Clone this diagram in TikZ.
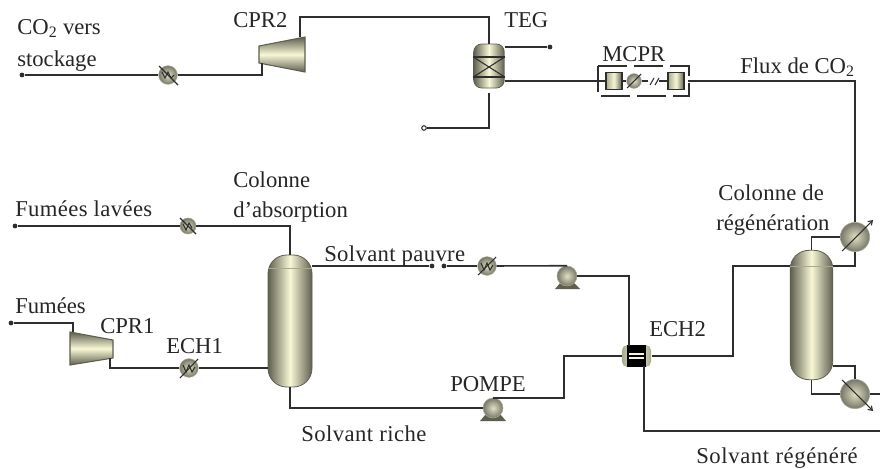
\documentclass[tikz,border=0pt]{standalone}
\usepackage{fontspec}
\setmainfont{Liberation Serif}
\usetikzlibrary{arrows.meta,calc}
\definecolor{ink}{HTML}{2E2E2E}
\definecolor{eqdark}{HTML}{5F5F50}
\definecolor{eqmid}{HTML}{A9A98F}
\definecolor{eqlight}{HTML}{F8F8D6}
\newcommand{\wide}[1]{\addfontfeature{LetterSpace=#1}}
\tikzset{
  lab/.style={anchor=base west,inner sep=0pt,font=\fontsize{17}{20}\selectfont,text=black!85},
  pipe/.style={draw=ink,line width=1.2pt,line join=miter},
  column/.style={draw=eqdark,line width=.6pt,left color=eqdark,right color=eqdark,middle color=eqlight,inner sep=0pt,rounded corners=#1},
  hxball/.style={circle,draw=eqmid,line width=.4pt,inner color=eqlight!70!eqmid,outer color=eqdark!85,inner sep=0pt,minimum size=#1},
  blockbox/.style={draw=ink,line width=.8pt,left color=eqmid,right color=eqdark,middle color=eqlight,inner sep=0pt,minimum width=12pt,minimum height=13pt},
  tip/.style={circle,fill=ink,inner sep=0pt,minimum size=3.6pt},
  opentip/.style={circle,draw=ink,fill=white,line width=.8pt,inner sep=0pt,minimum size=3.4pt},
  sym/.style={draw=ink,line width=.8pt},
  comp/.style={draw=eqdark,line width=.8pt,top color=eqdark,bottom color=eqdark,middle color=eqlight},
}
\begin{document}
\begin{tikzpicture}[x=.75pt,y=-.75pt]
\useasboundingbox (0,0) rectangle (880,468);
\fill[white] (0,0) rectangle (880,468);

% columns
\node[column=14pt,minimum width=33pt,minimum height=99pt] (abs) at (290,321) {};
\node[column=14pt,minimum width=32pt,minimum height=97pt] (reg) at (811.5,315) {};
\draw[eqmid,line width=.5pt] (abs.west |- 0,268) -- (abs.east |- 0,268);
\draw[eqmid,line width=.5pt] (reg.west |- 0,266) -- (reg.east |- 0,266);
\node[column=6pt,minimum width=23pt,minimum height=33pt] (teg) at (489,66) {};
\draw[ink,line width=1pt] (teg.west |- 0,57) -- (teg.east |- 0,57) (teg.west |- 0,77) -- (teg.east |- 0,77);
\draw[sym] (teg.west |- 0,57) -- (teg.east |- 0,77) (teg.west |- 0,77) -- (teg.east |- 0,57);

% compressors
\shade[comp] (259,46) -- (305,37) -- (305,72) -- (259,63) -- cycle;
\shade[comp] (70,332) -- (113,340) -- (113,358) -- (70,365) -- cycle;
\coordinate (cprAin) at (262,63);
\coordinate (cprAout) at (300,37);
\coordinate (cprBin) at (73,332);
\coordinate (cprBout) at (110,358);

% heat exchangers
\node[hxball=14pt] (hxA) at (168,75) {};
\draw[sym] (159,66) -- (178,85);
\draw[sym] (162,72) -- (165,78) -- (168,72) -- (171,78) -- (174,75);
\node[hxball=12pt] (hxB) at (188,226) {};
\draw[sym] (180,218) -- (196,234);
\draw[sym] (183,224) -- (186,230) -- (189,223) -- (192,228);
\node[hxball=14pt] (hxC) at (189,368) {};
\draw[sym] (180,378) -- (198,359);
\draw[sym] (183,365) -- (186,372) -- (189,365) -- (192,372) -- (195,367);
\node[hxball=14pt] (hxD) at (487,266) {};
\draw[sym] (478,275) -- (496,257);
\draw[sym] (481,263) -- (484,270) -- (487,263) -- (490,270) -- (493,265);
\node[hxball=22pt] (cond) at (855,237) {};
\draw[sym,-{Straight Barb[length=3pt,width=4pt]}] (842,251) -- (873,220);
\node[hxball=22pt] (reb) at (855,394) {};
\draw[sym,-{Straight Barb[length=3pt,width=4pt]}] (842,380) -- (873,411);

% ECH2
\node[draw=eqmid,line width=.4pt,rounded corners=4pt,left color=eqmid,right color=eqmid,middle color=eqlight,inner sep=0pt,minimum width=21.5pt,minimum height=16pt] (echB) at (636.5,356) {};
\node[fill=black,inner sep=0pt,minimum width=14.5pt,minimum height=16pt] (echBcore) at (636.5,356) {};
\draw[eqlight,line width=.8pt] (629,354) -- (644,354) (629,358) -- (644,358);

% pumps
\fill[eqdark] (555,289) -- (561,282) -- (573,282) -- (580,289) -- cycle;
\node[hxball=15pt] (pumpA) at (567,276) {};
\fill[eqdark] (480,421) -- (486,414) -- (500,414) -- (506,421) -- cycle;
\node[hxball=15pt] (pumpB) at (493,408) {};

% MCPR
\draw[ink,line width=1pt,dash pattern=on 22pt off 5pt] (598,66) -- (689,66) -- (689,96) -- (598,96) -- cycle;
\node[blockbox] (blkA) at (614,81) {};
\node[blockbox] (blkB) at (676,81) {};
\node[hxball=11pt] (hxM) at (634,81) {};
\draw[sym] (627,88) -- (641,74);
\coordinate (brkA) at (648,81);
\coordinate (brkB) at (659,81);
\draw[sym] (650,85) -- (654,78) (655,85) -- (659,78);

% terminals
\node[tip] (tCO) at (22,75) {};
\node[tip] (tTEG) at (550,47) {};
\node[opentip] (tWat) at (424,128) {};
\node[tip] (tLav) at (15,226) {};
\node[tip] (tFum) at (11,323) {};
\node[tip] (tSolA) at (432,266) {};
\node[tip] (tSolB) at (444,266) {};
\coordinate (outReb) at (880,394);
\coordinate (outSol) at (880,431);
\coordinate (tegTop) at (489,17);
\coordinate (tegLow) at (489,93);
\coordinate (mcprOut) at (688,81);
\coordinate (echIn) at (622,356);
\coordinate (echOut) at (652,356);
\coordinate (echTop) at (629,346);
\coordinate (echLow) at (644,366);
\coordinate (riseA) at (564,356);
\coordinate (feedA) at (733,266);

% connectors
\draw[pipe] (tCO) -- (hxA);
\draw[pipe] (hxA) -| (cprAin);
\draw[pipe] (cprAout) |- (tegTop) -- (teg.north);
\draw[pipe] (teg.north east |- tTEG) -- (tTEG);
\draw[pipe] (teg.east |- blkA) -- (blkA);
\draw[pipe] (tegLow) |- (tWat);
\draw[pipe] (blkA) -- (hxM);
\draw[pipe] (hxM) -- (brkA);
\draw[pipe] (brkB) -- (blkB);
\draw[pipe] (mcprOut) -| (cond.north);
\draw[pipe] (tLav) -- (hxB);
\draw[pipe] (hxB.east) -| (abs.north);
\draw[pipe] (tFum) -| (cprBin);
\draw[pipe] (cprBout) |- (hxC);
\draw[pipe] (hxC) -- (abs.west |- hxC);
\draw[pipe] (abs.east |- tSolA) -- (tSolA);
\draw[pipe] (tSolB) -- (hxD);
\draw[pipe] (hxD) -- (pumpA.north);
\draw[pipe] (pumpA) -| (echTop);
\draw[pipe] (abs.south) |- (pumpB.west);
\draw[pipe] (pumpB.north) -| (riseA) -- (echIn);
\draw[pipe] (echOut) -| (feedA) -- (reg.west |- feedA);
\draw[pipe] (echLow) |- (outSol);
\draw[pipe] (reg.north) |- (cond.west);
\draw[pipe] (cond.south) |- (reg.east |- feedA);
\draw[pipe] (reg.east |- 0,366) -| (reb.north);
\draw[pipe] (reg.south) |- (reb.west);
\draw[pipe] (reb.east) -- (outReb);

% labels
\node[lab] (lA) at (17,34) {CO\textsubscript{2} vers};
\node[lab] (lB) at (17,66) {stockage};
\node[lab] (lC) at (233,27) {CPR2};
\node[lab] (lD) at (504,27) {TEG};
\node[lab] (lE) at (602,61) {MCPR};
\node[lab] (lF) at (740,73) {Flux de CO\textsubscript{2}};
\node[lab] (lG) at (718,200) {\wide{1}Colonne de};
\node[lab] (lH) at (716,230) {régénération};
\node[lab] (lI) at (649,336) {ECH2};
\node[lab] (lJ) at (324,261) {\wide{1.6}Solvant pauvre};
\node[lab] (lK) at (301,441) {\wide{2}Solvant riche};
\node[lab] (lL) at (696,463) {\wide{2.7}Solvant régénéré};
\node[lab] (lM) at (450,391) {POMPE};
\node[lab] (lN) at (233,187) {Colonne};
\node[lab] (lO) at (233,217) {d’absorption};
\node[lab] (lP) at (15,216) {\wide{1.7}Fumées lavées};
\node[lab] (lQ) at (15,313) {Fumées};
\node[lab] (lR) at (100,333) {CPR1};
\node[lab] (lS) at (166,353) {ECH1};
\end{tikzpicture}
\end{document}
